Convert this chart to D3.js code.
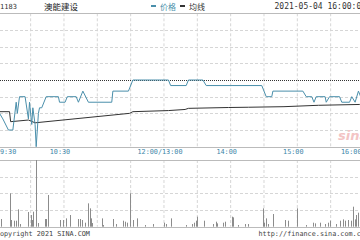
<!DOCTYPE html>
<html>
<head>
<meta charset="utf-8">
<script src="https://cdn.jsdelivr.net/npm/d3@7"></script>
<style>
  body { margin: 0; background: #fff; }
  svg { display: block; }
</style>
</head>
<body>
<div id="chart"></div>
<script>
const width = 360;
const height = 240;

const stockCode = "1183";
const stockName = "澳能建设";
const dateText = "2021-05-04 16:00:00";
const legendNames = ["价格", "均线"];
const prevClose = 3.50;

// minute price, only the points where it turns
const priceTimes = ["09:30", "09:32", "09:35", "09:40", "09:44", "09:47", "09:48", "09:50", "09:55", "09:58",
    "09:59", "10:01", "10:02", "10:04", "10:05", "10:07", "10:08", "10:10", "10:14", "10:25",
    "10:26", "10:31", "10:33", "10:41", "10:43", "10:47", "10:52", "11:13", "11:14", "11:28",
    "11:32", "13:04", "13:06", "13:20", "13:22", "13:35", "13:38", "14:28", "14:32", "14:37",
    "14:38", "15:05", "15:08", "15:13", "15:15", "15:17", "15:25", "15:26", "15:29", "15:38",
    "15:40", "15:47", "15:49", "15:52", "15:55", "15:57", "16:00"];
const prices = [3.44, 3.44, 3.43, 3.41, 3.41, 3.46, 3.44, 3.47, 3.47, 3.43,
    3.46, 3.42, 3.45, 3.42, 3.38, 3.44, 3.45, 3.45, 3.47, 3.47,
    3.46, 3.46, 3.47, 3.47, 3.46, 3.48, 3.46, 3.46, 3.48, 3.48,
    3.50, 3.50, 3.49, 3.49, 3.50, 3.50, 3.49, 3.49, 3.47, 3.47,
    3.48, 3.48, 3.47, 3.47, 3.46, 3.47, 3.47, 3.46, 3.47, 3.47,
    3.46, 3.46, 3.47, 3.46, 3.48, 3.47, 3.47];

const avgTimes = ["09:30", "09:41", "09:42", "09:58", "10:04", "11:29", "11:32", "13:04", "13:19", "13:22",
    "13:58", "14:16", "14:48", "15:19", "15:56", "16:00"];
const avgPrices = [3.443, 3.443, 3.425, 3.428, 3.423, 3.440, 3.443, 3.445, 3.447, 3.449,
    3.4505, 3.451, 3.452, 3.4545, 3.456, 3.4565];

// volume, thousand shares
const volTimes = ["09:33", "09:41", "09:42", "09:45", "09:47", "09:49", "09:50", "09:58", "10:00", "10:01",
    "10:02", "10:05", "10:07", "10:13", "10:14", "10:16", "10:26", "10:29", "10:32", "10:35",
    "10:43", "10:44", "10:46", "10:49", "10:52", "10:53", "10:54", "10:55", "11:04", "11:05",
    "11:14", "11:17", "11:23", "11:25", "11:27", "11:29", "11:32", "11:36", "11:43", "11:50",
    "13:00", "13:02", "13:06", "13:20", "13:25", "13:27", "13:29", "13:30", "13:36", "13:44",
    "13:47", "13:48", "13:53", "13:55", "14:01", "14:02", "14:07", "14:13", "14:16", "14:29",
    "14:30", "14:32", "14:34", "14:38", "14:49", "14:52", "15:00", "15:08", "15:14", "15:16",
    "15:20", "15:25", "15:28", "15:29", "15:35", "15:38", "15:41", "15:43", "15:46", "15:48",
    "15:50", "15:52", "15:53", "15:55"];
const volumes = [46, 200, 40, 36, 36, 104, 16, 88, 70, 40,
    90, 400, 22, 46, 46, 190, 40, 40, 50, 70,
    46, 46, 40, 24, 140, 110, 50, 22, 50, 10,
    46, 16, 36, 30, 24, 200, 40, 50, 10, 16,
    24, 16, 50, 10, 16, 24, 36, 60, 36, 16,
    30, 20, 24, 30, 60, 56, 10, 16, 16, 110,
    24, 50, 16, 76, 40, 36, 110, 10, 24, 20,
    24, 16, 24, 36, 16, 36, 44, 36, 40, 36,
    120, 44, 70, 84];

const timeLabels = ["09:30", "10:30", "12:00/13:00", "14:00", "15:00", "16:00"];
const timeLabelAt = ["09:30", "10:30", "12:00", "14:00", "15:00", "16:00"];

// trading minutes since 09:30, lunch break 12:00-13:00 removed
function toMinute(t) {
    const [h, m] = t.split(":").map(Number);
    const mins = h * 60 + m - 570;
    return h >= 13 ? mins - 60 : mins;
}

const x = d3.scaleLinear().domain([0, 330]).range([-2.7, 364]);
const yPrice = d3.scaleLinear().domain([prevClose - 0.12, prevClose + 0.12]).range([146.7, 13.3]);
const yVol = d3.scaleLinear().domain([0, 400]).range([226.7, 160]);

const svg = d3.select("#chart").append("svg")
    .attr("width", width)
    .attr("height", height)
    .style("background", "#fff");

const mono = "'DejaVu Sans Mono', monospace";
const priceColor = "#4a8fab";

drawGrid();
drawPrice();
drawVolume();
drawTexts();

function drawGrid() {
    const gridColor = "#d6d6d6";
    const halfHours = d3.range(30, 330, 30);

    // price panel
    svg.append("g").selectAll("line")
        .data(halfHours)
        .enter().append("line")
        .attr("x1", d => x(d)).attr("x2", d => x(d))
        .attr("y1", yPrice.range()[1]).attr("y2", yPrice.range()[0])
        .style("stroke", gridColor)
        .style("stroke-dasharray", "3,2");

    const levels = d3.range(-3, 4).filter(k => k !== 0).map(k => prevClose + k * 0.03);
    svg.append("g").selectAll("line")
        .data(levels)
        .enter().append("line")
        .attr("x1", 0).attr("x2", width)
        .attr("y1", d => Math.round(yPrice(d)) + 0.5).attr("y2", d => Math.round(yPrice(d)) + 0.5)
        .style("stroke", gridColor)
        .style("stroke-dasharray", "3,2");

    [yPrice.range()[1], yPrice.range()[0]].forEach(yy => {
        svg.append("line")
            .attr("x1", 0).attr("x2", width)
            .attr("y1", Math.round(yy) + 0.5).attr("y2", Math.round(yy) + 0.5)
            .style("stroke", "#bbb");
    });

    // previous close
    svg.append("line")
        .attr("x1", 0).attr("x2", width)
        .attr("y1", Math.round(yPrice(prevClose)) + 0.5).attr("y2", Math.round(yPrice(prevClose)) + 0.5)
        .style("stroke", "#333")
        .style("stroke-dasharray", "1,1");

    // volume panel
    svg.append("g").selectAll("line")
        .data(halfHours)
        .enter().append("line")
        .attr("x1", d => x(d)).attr("x2", d => x(d))
        .attr("y1", yVol.range()[1]).attr("y2", yVol.range()[0])
        .style("stroke", gridColor)
        .style("stroke-dasharray", "3,2");

    svg.append("g").selectAll("line")
        .data([100, 200, 300])
        .enter().append("line")
        .attr("x1", 0).attr("x2", width)
        .attr("y1", d => Math.round(yVol(d)) + 0.5).attr("y2", d => Math.round(yVol(d)) + 0.5)
        .style("stroke", gridColor)
        .style("stroke-dasharray", "3,2");

    [yVol.range()[1], yVol.range()[0]].forEach(yy => {
        svg.append("line")
            .attr("x1", 0).attr("x2", width)
            .attr("y1", Math.round(yy) + 0.5).attr("y2", Math.round(yy) + 0.5)
            .style("stroke", "#bbb");
    });
}

function drawPrice() {
    const priceData = priceTimes.map((t, i) => [toMinute(t), prices[i]]);
    const avgData = avgTimes.map((t, i) => [toMinute(t), avgPrices[i]]);
    const line = d3.line().x(d => x(d[0])).y(d => yPrice(d[1]));

    svg.append("path")
        .attr("d", line(avgData))
        .style("fill", "none")
        .style("stroke", "#333")
        .style("stroke-width", 1);

    svg.append("path")
        .attr("d", line(priceData))
        .style("fill", "none")
        .style("stroke", priceColor)
        .style("stroke-width", 1);

    // watermark
    svg.append("text")
        .attr("x", 338).attr("y", 140)
        .style("font-family", "'DejaVu Sans', sans-serif")
        .style("font-size", "13px")
        .style("font-style", "italic")
        .style("font-weight", "bold")
        .style("fill", "#f3c4c4")
        .text("sina");
}

function drawVolume() {
    svg.append("g").selectAll("line")
        .data(volTimes.map((t, i) => [toMinute(t), volumes[i]]))
        .enter().append("line")
        .attr("x1", d => Math.round(x(d[0])) + 0.5).attr("x2", d => Math.round(x(d[0])) + 0.5)
        .attr("y1", yVol(0)).attr("y2", d => yVol(d[1]))
        .style("stroke", "#8c8c8c")
        .style("stroke-width", 1);
}

function drawTexts() {
    svg.append("text")
        .attr("x", 0).attr("y", 9)
        .style("font-family", mono).style("font-size", "7px").style("fill", "#333")
        .text(stockCode);

    svg.append("text")
        .attr("x", 44).attr("y", 9.5)
        .style("font-family", "'Noto Sans CJK SC', sans-serif").style("font-size", "8.5px").style("fill", "#222")
        .text(stockName);

    const legendX = [151, 180];
    const legendColors = [priceColor, "#333"];
    legendNames.forEach((name, i) => {
        svg.append("rect")
            .attr("x", legendX[i]).attr("y", 5)
            .attr("width", 5).attr("height", 2)
            .style("fill", legendColors[i]);
        svg.append("text")
            .attr("x", legendX[i] + 9).attr("y", 9.5)
            .style("font-family", "'Noto Sans CJK SC', sans-serif").style("font-size", "8px")
            .style("fill", i === 0 ? priceColor : "#333")
            .text(name);
    });

    svg.append("text")
        .attr("x", 274.5).attr("y", 9)
        .style("font-family", mono).style("font-size", "8px").style("fill", "#333")
        .text(dateText);

    svg.append("g").selectAll("text")
        .data(timeLabels)
        .enter().append("text")
        .attr("x", (d, i) => {
            const px = x(toMinute(timeLabelAt[i]));
            if (i === 0) return px - 1.5;
            if (i === timeLabels.length - 1) return px - 2.5;
            return px - 4;
        })
        .attr("y", 154)
        .attr("text-anchor", (d, i) => i === 0 ? "start" : (i === timeLabels.length - 1 ? "end" : "middle"))
        .style("font-family", mono).style("font-size", "6.8px").style("fill", "#3d86a8")
        .text(d => d);

    svg.append("text")
        .attr("x", -4.2).attr("y", 236)
        .style("font-family", mono).style("font-size", "6.8px").style("fill", "#444")
        .text("Copyright 2021 SINA.COM");

    svg.append("text")
        .attr("x", 258.5).attr("y", 236)
        .style("font-family", mono).style("font-size", "6.8px").style("fill", "#444")
        .text("http://finance.sina.com.cn");
}
</script>
</body>
</html>
